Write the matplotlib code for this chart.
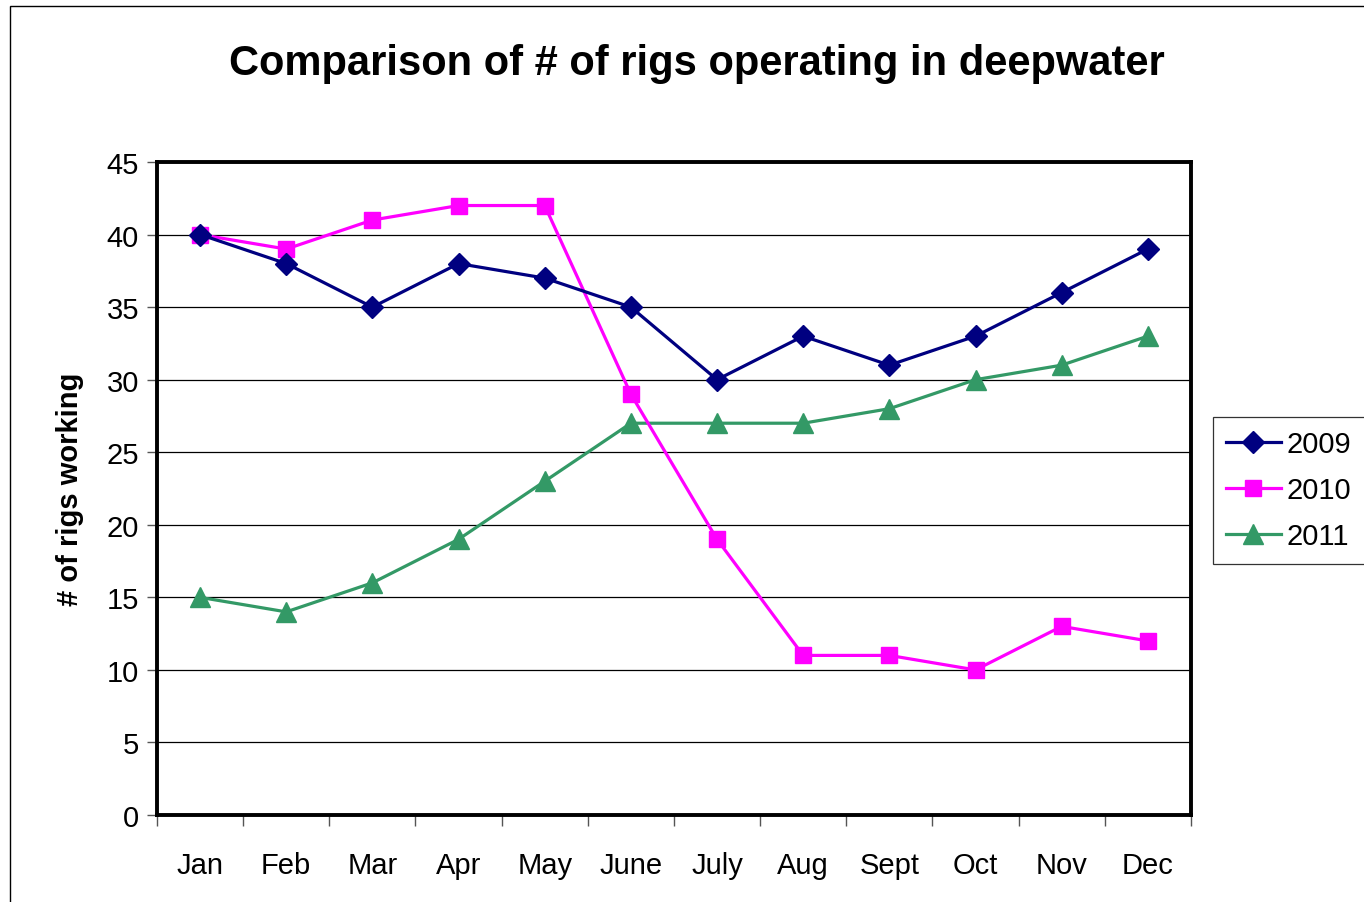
import matplotlib.pyplot as plt
from matplotlib.patches import Rectangle

plt.rcParams['font.family'] = ['Liberation Sans', 'DejaVu Sans']

months = ['Jan', 'Feb', 'Mar', 'Apr', 'May', 'June', 'July', 'Aug', 'Sept', 'Oct', 'Nov', 'Dec']
rigs_2009 = [40, 38, 35, 38, 37, 35, 30, 33, 31, 33, 36, 39]
rigs_2010 = [40, 39, 41, 42, 42, 29, 19, 11, 11, 10, 13, 12]
rigs_2011 = [15, 14, 16, 19, 23, 27, 27, 27, 28, 30, 31, 33]

fig = plt.figure(figsize=(13.64, 9.03), dpi=100)
ax = fig.add_axes([0.1151, 0.0963, 0.758, 0.7232])

x = list(range(len(months)))
ax.plot(x, rigs_2009, color='#000080', lw=2.3, marker='D', ms=11, label='2009', zorder=5)
ax.plot(x, rigs_2010, color='#FF00FF', lw=2.3, marker='s', ms=12, label='2010', zorder=4)
ax.plot(x, rigs_2011, color='#339966', lw=2.3, marker='^', ms=14, label='2011', zorder=3)

ax.set_xlim(-0.5, 11.5)
ax.set_ylim(0, 45)
ax.set_yticks(range(0, 46, 5))
ax.set_xticks([i - 0.5 for i in range(13)])
ax.set_xticklabels([])
ax.set_xticks(x, minor=True)
ax.set_xticklabels(months, minor=True, fontsize=21)
ax.tick_params(axis='x', which='minor', length=0, pad=26)
ax.tick_params(axis='x', which='major', length=8, width=1, color='#555555', direction='out')
ax.tick_params(axis='y', length=7, width=1, color='#555555', labelsize=21, pad=6)
ax.grid(axis='y', color='black', lw=0.9)
ax.set_axisbelow(True)
for sp in ax.spines.values():
    sp.set_linewidth(2.8)
    sp.set_color('black')

ax.set_ylabel('# of rigs working', fontsize=21, fontweight='bold', labelpad=16)
fig.text(0.511, 0.929, 'Comparison of # of rigs operating in deepwater',
         ha='center', va='center', fontsize=30, fontweight='bold')

leg = fig.legend(loc='upper left', bbox_to_anchor=(0.889, 0.537), fontsize=21,
                 frameon=True, fancybox=False, edgecolor='black', handlelength=1.9,
                 labelspacing=0.62, borderpad=0.45, handletextpad=0.2, borderaxespad=0)
leg.get_frame().set_linewidth(0.9)

fig.patches.append(Rectangle((0.0073, -0.05), 1.1, 1.042, transform=fig.transFigure,
                             fill=False, edgecolor='black', lw=1, zorder=0))

fig.savefig('out.png', dpi=100)
